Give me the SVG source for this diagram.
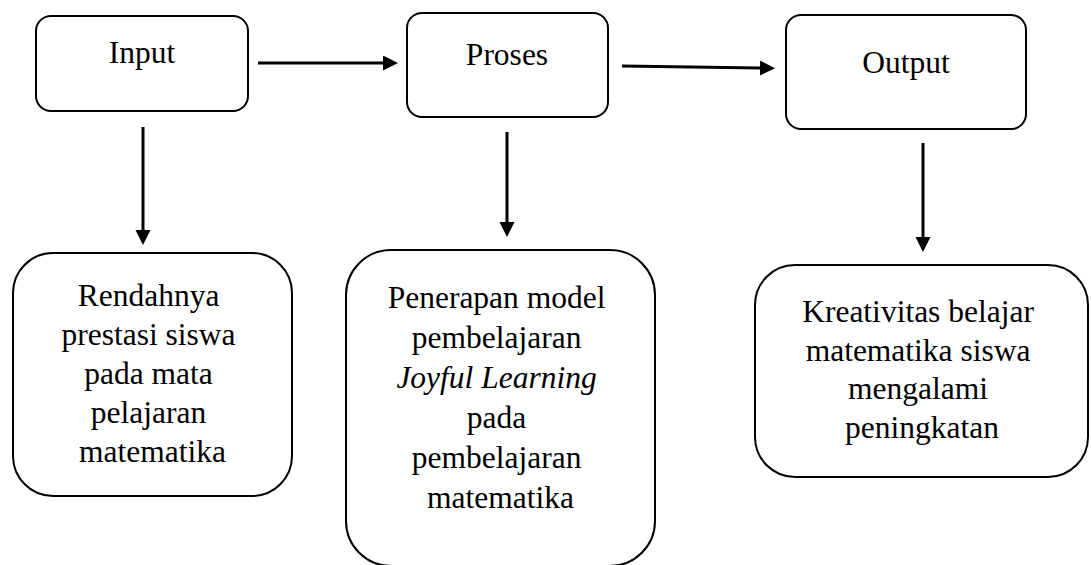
<svg xmlns="http://www.w3.org/2000/svg" width="1091" height="565" viewBox="0 0 1091 565">
  <style>
    .box { fill: #ffffff; stroke: #000000; stroke-width: 2; }
    .lbl { font-family: "Liberation Serif", "Times New Roman", serif; font-size: 31.5px; fill: #000000; text-anchor: middle; }
    .it { font-style: italic; }
    .conn { stroke: #000000; stroke-width: 3; fill: none; marker-end: url(#arrow); }
  </style>
  <defs>
    <marker id="arrow" markerUnits="userSpaceOnUse" markerWidth="16" markerHeight="16" refX="0" refY="7.5" orient="auto">
      <path d="M0,0 L15,7.5 L0,15 Z" fill="#000000"/>
    </marker>
  </defs>
  <rect width="1091" height="565" fill="#ffffff"/>

  <g id="node-input">
    <rect class="box" x="36" y="16" width="212" height="95" rx="15" ry="15"/>
    <text class="lbl" x="142" y="63">Input</text>
  </g>
  <g id="node-proses">
    <rect class="box" x="407" y="13" width="201" height="104" rx="15" ry="15"/>
    <text class="lbl" x="507" y="65">Proses</text>
  </g>
  <g id="node-output">
    <rect class="box" x="786" y="15" width="240" height="114" rx="15" ry="15"/>
    <text class="lbl" x="906" y="73">Output</text>
  </g>

  <g id="node-rendahnya">
    <rect class="box" x="13" y="253" width="279" height="243" rx="40" ry="40"/>
    <text class="lbl">
      <tspan x="152.5" y="306">Rendahnya</tspan>
      <tspan x="152.5" y="345">prestasi siswa</tspan>
      <tspan x="152.5" y="384">pada mata</tspan>
      <tspan x="152.5" y="423">pelajaran</tspan>
      <tspan x="152.5" y="462">matematika</tspan>
    </text>
  </g>
  <g id="node-penerapan">
    <rect class="box" x="346" y="250" width="309" height="316" rx="45" ry="45"/>
    <text class="lbl">
      <tspan x="500.5" y="308">Penerapan model</tspan>
      <tspan x="500.5" y="348">pembelajaran</tspan>
      <tspan x="500.5" y="388" class="it">Joyful Learning</tspan>
      <tspan x="500.5" y="428">pada</tspan>
      <tspan x="500.5" y="468">pembelajaran</tspan>
      <tspan x="500.5" y="508">matematika</tspan>
    </text>
  </g>
  <g id="node-kreativitas">
    <rect class="box" x="755" y="265" width="333" height="212" rx="40" ry="40"/>
    <text class="lbl">
      <tspan x="922" y="322">Kreativitas belajar</tspan>
      <tspan x="922" y="361">matematika siswa</tspan>
      <tspan x="922" y="399">mengalami</tspan>
      <tspan x="922" y="438">peningkatan</tspan>
    </text>
  </g>

  <g id="connectors">
    <line class="conn" x1="258" y1="63" x2="383" y2="63"/>
    <line class="conn" x1="622" y1="66" x2="760" y2="68"/>
    <line class="conn" x1="143" y1="127" x2="143" y2="230"/>
    <line class="conn" x1="507" y1="132" x2="507" y2="222"/>
    <line class="conn" x1="923" y1="143" x2="923" y2="237"/>
  </g>
</svg>
